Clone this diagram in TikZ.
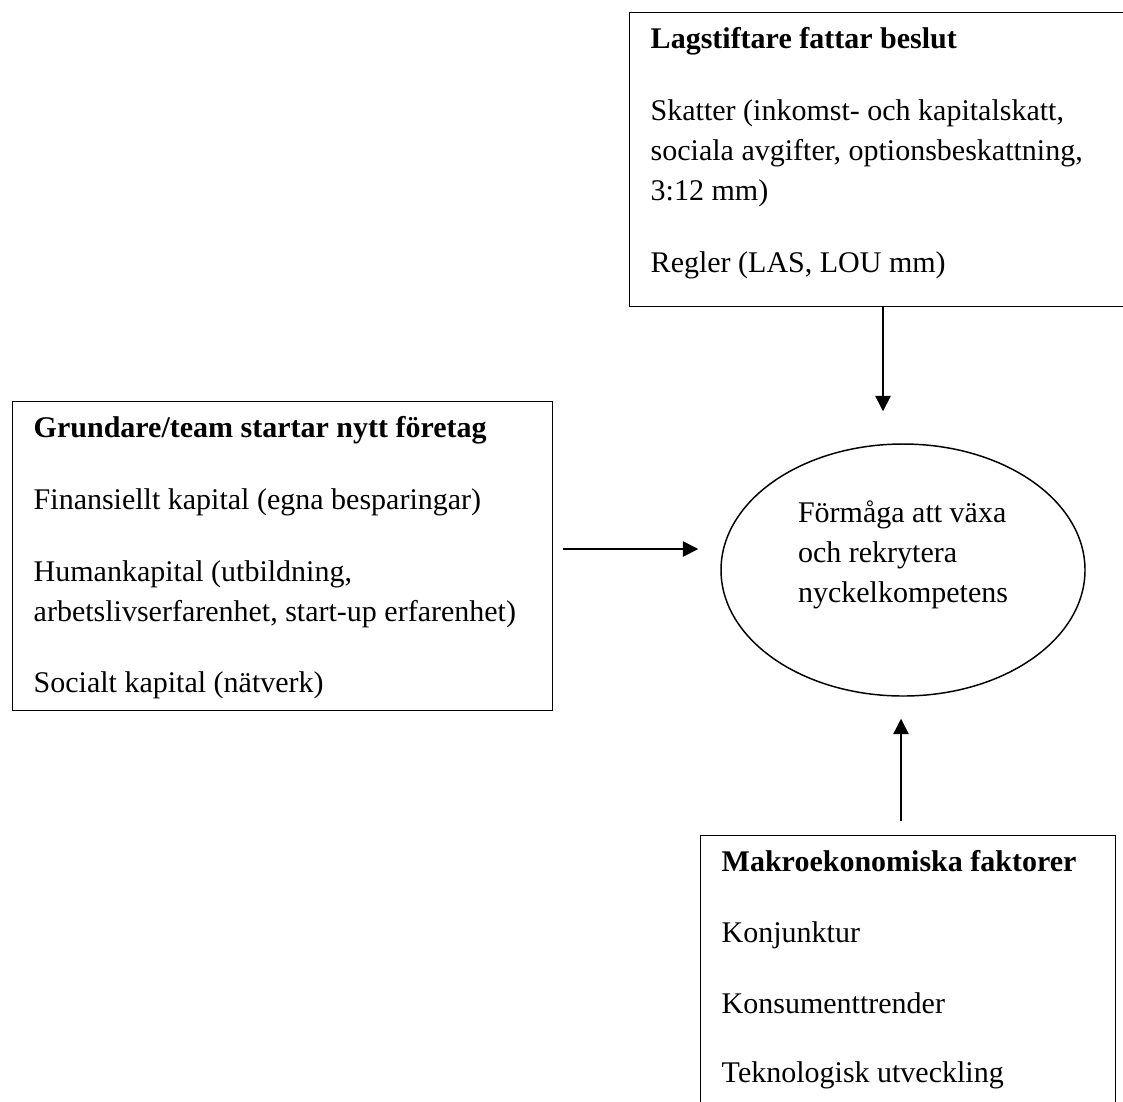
\documentclass[tikz,border=0pt]{standalone}
\usepackage{fontspec}
\setmainfont{Liberation Serif}
\usetikzlibrary{arrows.meta, shapes.geometric}

\newcommand{\boxtext}[3]{\begin{minipage}[t][#2][t]{#1}\strut #3\end{minipage}}

\begin{document}
\begin{tikzpicture}[x=0.75pt,y=-0.75pt,>={Triangle[length=11.5pt,width=11.5pt]},line width=1.1pt,
  font=\fontsize{22.5}{30}\selectfont,
  panel/.style={draw, rectangle, anchor=north west, inner xsep=15.75pt, inner ysep=6pt},
  goal/.style={draw, ellipse, minimum width=273pt, minimum height=189pt, inner sep=0pt}]

\useasboundingbox (0,0) rectangle (1123,1101);

% define the boxes
  \node[panel] (lag) at (629,12)
{\boxtext{340.5pt}{208.5pt}{\textbf{Lagstiftare fattar beslut}\\[24pt]
Skatter (inkomst- och kapitalskatt,\\ sociala avgifter, optionsbeskattning,\\ 3:12 mm)\\[24pt]
Regler (LAS, LOU mm)}};
  \node[panel] (grund) at (12,401)
{\boxtext{373.5pt}{219.75pt}{\textbf{Grundare/team startar nytt företag}\\[24pt]
Finansiellt kapital (egna besparingar)\\[24pt]
Humankapital (utbildning,\\ arbetslivserfarenhet, start-up erfarenhet)\\[23pt]
Socialt kapital (nätverk)}};
  \node[panel] (makro) at (700,835)
{\boxtext{279.75pt}{194.25pt}{\textbf{Makroekonomiska faktorer}\\[23pt]
Konjunktur\\[23pt]
Konsumenttrender\\[22pt]
Teknologisk utveckling}};

% the goal in the middle
  \node[goal, label={[align=left, yshift=11pt]center:Förmåga att växa\\ och rekrytera\\ nyckelkompetens}] (mal) at (903,570) {};

% define the links
  \draw[->, shorten >=24pt] (lag.south -| 883,0) -- (mal.north -| 883,0);
  \draw[->, shorten <=7.5pt, shorten >=16.5pt] (grund.east |- 0,549) -- (mal.west |- 0,549);
  \draw[->, shorten <=10.5pt, shorten >=16.5pt] (makro.north -| 901,0) -- (mal.south -| 901,0);

\end{tikzpicture}
\end{document}
